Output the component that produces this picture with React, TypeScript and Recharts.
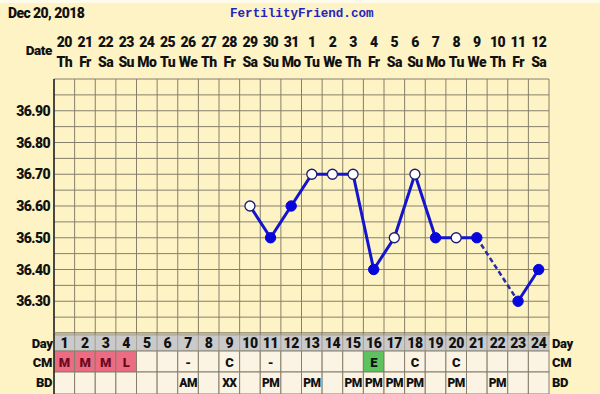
import React from "react";
import { ComposedChart, Line, XAxis, YAxis, CartesianGrid } from "recharts";

// cycle days and their calendar labels
const days = [1, 2, 3, 4, 5, 6, 7, 8, 9, 10, 11, 12, 13, 14, 15, 16, 17, 18, 19, 20, 21, 22, 23, 24];
const dates = ["20", "21", "22", "23", "24", "25", "26", "27", "28", "29", "30", "31", "1", "2", "3", "4", "5", "6", "7", "8", "9", "10", "11", "12"];
const weekdays = ["Th", "Fr", "Sa", "Su", "Mo", "Tu", "We", "Th", "Fr", "Sa", "Su", "Mo", "Tu", "We", "Th", "Fr", "Sa", "Su", "Mo", "Tu", "We", "Th", "Fr", "Sa"];

// temperatures (null = not recorded)
const temps: (number | null)[] = [null, null, null, null, null, null, null, null, null, 36.6, 36.5, 36.6, 36.7, 36.7, 36.7, 36.4, 36.5, 36.7, 36.5, 36.5, 36.5, null, 36.3, 36.4];
const openDots = [false, false, false, false, false, false, false, false, false, true, false, false, true, true, true, false, true, true, false, true, false, false, false, false];

// bottom table rows
const cm = ["M", "M", "M", "L", "", "", "-", "", "C", "", "-", "", "", "", "", "E", "", "C", "", "C", "", "", "", ""];
const bd = ["", "", "", "", "", "", "AM", "", "XX", "", "PM", "", "PM", "", "PM", "PM", "PM", "PM", "", "PM", "", "PM", "", ""];

// axis ticks
const tempLabels = [36.3, 36.4, 36.5, 36.6, 36.7, 36.8, 36.9];
const tempGrid = [36.2, 36.25, 36.3, 36.35, 36.4, 36.45, 36.5, 36.55, 36.6, 36.65, 36.7, 36.75, 36.8, 36.85, 36.9, 36.95, 37.0];

const W = 600;
const H = 394;
const LEFT_W = 54;
const RIGHT_W = 51;
const TOP_H = 79;
const BOTTOM_H = 61;
const PLOT_W = W - LEFT_W - RIGHT_W;

const BG = "#FDF3C5";
const GRID = "#857F6B";
const CELL = "#FBF3E3";
const DAYROW = "#CACACA";
const LINE = "#1414CE";
const DOT = "#0707DC";

const cmFill: Record<string, string> = { M: "#EC6C84", L: "#EC6C84", E: "#5EC25E" };

const bold = { fontFamily: "Roboto, sans-serif", fontWeight: 900 };

// dashed bridge over missing readings
const bridge: (number | null)[] = temps.map(() => null);
temps.forEach((t, i) => {
  if (t !== null) return;
  let p = i - 1;
  while (p >= 0 && temps[p] === null) p--;
  let n = i + 1;
  while (n < temps.length && temps[n] === null) n++;
  if (p >= 0 && n < temps.length) {
    bridge[p] = temps[p];
    bridge[n] = temps[n];
  }
});

const rows = days.map((d, i) => ({ day: d, temp: temps[i], bridge: bridge[i], open: openDots[i] }));
const colEdges = [...days.map((d) => d - 0.5), days[days.length - 1] + 0.5];

function DateTick(props: any) {
  const { x, y, payload, index } = props;
  const i = days.indexOf(payload.value);
  const cw = PLOT_W / days.length;
  return (
    <g>
      {index === 0 && (
        <text x={x - cw / 2 - 2} y={y - 24} textAnchor="end" fill="#111" fontSize={13.5} style={{ ...bold, letterSpacing: -0.4 }}>
          Date
        </text>
      )}
      <text x={x} y={y - 32} textAnchor="middle" fill="#111" fontSize={14} style={{ ...bold, letterSpacing: -0.6 }}>
        {dates[i]}
      </text>
      <text x={x} y={y - 12} textAnchor="middle" fill="#111" fontSize={14} style={{ ...bold, letterSpacing: -0.6 }}>
        {weekdays[i]}
      </text>
    </g>
  );
}

function TableTick(props: any) {
  const { x, y, payload, index } = props;
  const i = days.indexOf(payload.value);
  const cw = PLOT_W / days.length;
  const left = x - cw / 2;
  const right = x + cw / 2;
  const last = index === days.length - 1;
  const txt = { ...bold, letterSpacing: -0.4 };
  return (
    <g>
      <rect x={left} y={y} width={cw} height={2} fill={BG} stroke={GRID} strokeWidth={1} />
      <rect x={left} y={y + 2} width={cw} height={16} fill={DAYROW} stroke="#A8A49A" strokeWidth={1} />
      <rect x={left} y={y + 18} width={cw} height={21} fill={cmFill[cm[i]] ?? CELL} stroke={GRID} strokeWidth={1} />
      <rect x={left} y={y + 39} width={cw} height={22} fill={CELL} stroke={GRID} strokeWidth={1} />
      <text x={x} y={y + 15} textAnchor="middle" fill="#111" fontSize={14} style={txt}>
        {payload.value}
      </text>
      <text x={x} y={y + 34} textAnchor="middle" fill={cm[i] === "M" || cm[i] === "L" ? "#6E0A1E" : "#111"} fontSize={13} style={txt}>
        {cm[i]}
      </text>
      <text x={x} y={y + 54} textAnchor="middle" fill="#111" fontSize={12} style={{ ...bold, letterSpacing: -0.6 }}>
        {bd[i]}
      </text>
      {index === 0 && (
        <g>
          <line x1={left} x2={left} y1={y} y2={y + 61} stroke="#222" strokeWidth={1.5} />
          <text x={left - 1.5} y={y + 15} textAnchor="end" fill="#111" fontSize={13} style={txt}>Day</text>
          <text x={left - 2} y={y + 34} textAnchor="end" fill="#111" fontSize={13} style={txt}>CM</text>
          <text x={left - 2} y={y + 54} textAnchor="end" fill="#111" fontSize={13} style={txt}>BD</text>
        </g>
      )}
      {last && (
        <g>
          <text x={right + 3} y={y + 15} fill="#111" fontSize={13} style={txt}>Day</text>
          <text x={right + 3} y={y + 34} fill="#111" fontSize={13} style={txt}>CM</text>
          <text x={right + 3} y={y + 54} fill="#111" fontSize={13} style={txt}>BD</text>
        </g>
      )}
    </g>
  );
}

function TempTick(props: any) {
  const { x, y, payload, side } = props;
  return (
    <text x={x} y={y} dy="0.36em" textAnchor={side === "left" ? "end" : "start"} fill="#111" fontSize={14} style={{ ...bold, letterSpacing: -0.6 }}>
      {payload.value.toFixed(2)}
    </text>
  );
}

function TempDot(props: any) {
  const { cx, cy, payload, index } = props;
  if (payload == null || payload.temp == null || cy == null) return <g key={`d${index}`} />;
  return payload.open ? (
    <circle key={`d${index}`} cx={cx} cy={cy} r={5} fill="#FFFFFF" stroke="#1C1C70" strokeWidth={1.3} />
  ) : (
    <circle key={`d${index}`} cx={cx} cy={cy} r={5.2} fill={DOT} stroke={DOT} strokeWidth={1} />
  );
}

export default function App() {
  return (
    <div style={{ position: "absolute", left: 0, top: 0, width: W, height: H, background: BG, overflow: "hidden" }}>
      <ComposedChart width={W} height={H} data={rows} margin={{ top: 0, right: 0, bottom: 0, left: 0 }}>
        <CartesianGrid
          xAxisId="bottom"
          yAxisId="left"
          verticalValues={colEdges}
          horizontalValues={tempGrid}
          stroke={GRID}
          strokeWidth={1}
        />
        <XAxis
          xAxisId="top"
          orientation="top"
          dataKey="day"
          type="number"
          domain={[colEdges[0], colEdges[colEdges.length - 1]]}
          ticks={days}
          interval={0}
          height={TOP_H}
          axisLine={false}
          tickLine={false}
          tickSize={0}
          tickMargin={0}
          tick={<DateTick />}
        />
        <XAxis
          xAxisId="bottom"
          orientation="bottom"
          dataKey="day"
          type="number"
          domain={[colEdges[0], colEdges[colEdges.length - 1]]}
          ticks={days}
          interval={0}
          height={BOTTOM_H}
          axisLine={false}
          tickLine={false}
          tickSize={0}
          tickMargin={0}
          tick={<TableTick />}
        />
        <YAxis
          yAxisId="left"
          orientation="left"
          type="number"
          domain={[36.2, 37.0]}
          ticks={tempLabels}
          interval={0}
          width={LEFT_W}
          axisLine={{ stroke: "#222", strokeWidth: 1.5 }}
          tickLine={false}
          tickSize={0}
          tickMargin={4}
          tick={<TempTick side="left" />}
        />
        <YAxis
          yAxisId="right"
          orientation="right"
          type="number"
          domain={[36.2, 37.0]}
          ticks={tempLabels}
          interval={0}
          width={RIGHT_W}
          axisLine={false}
          tickLine={false}
          tickSize={0}
          tickMargin={4}
          tick={<TempTick side="right" />}
        />
        <Line
          xAxisId="bottom"
          yAxisId="left"
          dataKey="bridge"
          stroke="#2A2AA8"
          strokeWidth={2.5}
          strokeDasharray="5 3"
          dot={false}
          activeDot={false}
          connectNulls
          isAnimationActive={false}
        />
        <Line
          xAxisId="bottom"
          yAxisId="left"
          dataKey="temp"
          stroke={LINE}
          strokeWidth={3}
          dot={<TempDot />}
          activeDot={false}
          connectNulls={false}
          isAnimationActive={false}
        />
      </ComposedChart>
      <div style={{ position: "absolute", left: 0, top: 0, width: W, height: 3, background: "#FFFBEA" }} />
      <div style={{ position: "absolute", left: 8, top: 5, fontSize: 14, color: "#111", letterSpacing: -0.6, ...bold }}>Dec 20, 2018</div>
      <div
        style={{
          position: "absolute",
          left: 230,
          top: 7,
          fontSize: 12.6,
          fontWeight: 700,
          color: "#2424C0",
          fontFamily: '"Liberation Mono", "DejaVu Sans Mono", monospace',
        }}
      >
        FertilityFriend.com
      </div>
    </div>
  );
}
